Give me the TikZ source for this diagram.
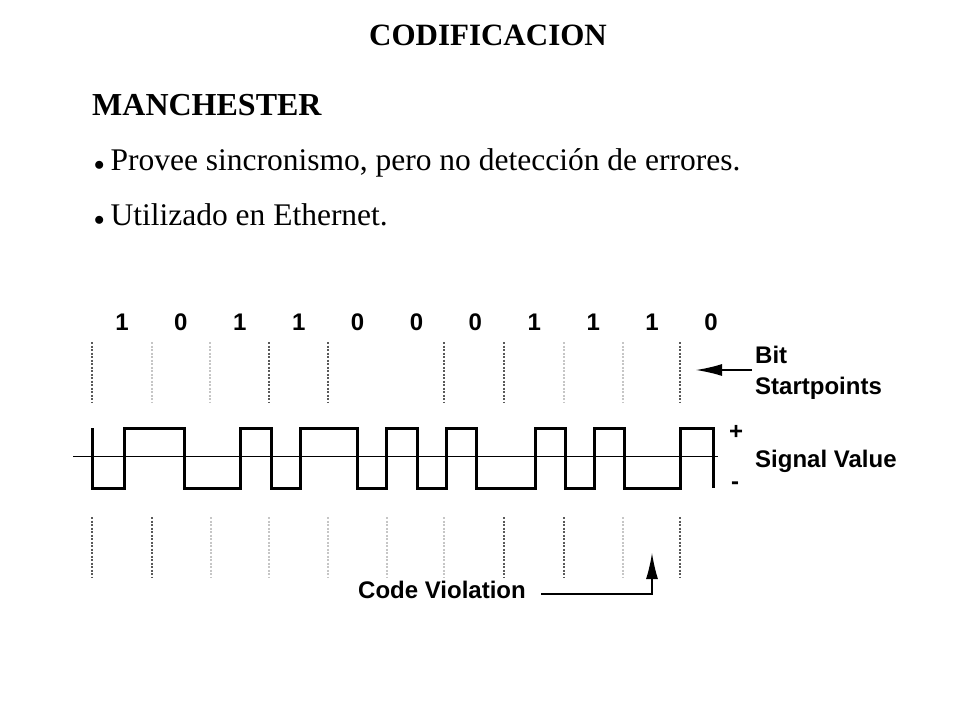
\documentclass[tikz,border=0pt]{standalone}
\usetikzlibrary{arrows.meta}
\usepackage{fontspec}
\setmainfont{Liberation Serif}
\newfontfamily\lab{Liberation Sans}
\begin{document}
\begin{tikzpicture}[x=1pt,y=-1pt,
  dk/.style={gray!70!black,dash pattern=on 2pt off 1.5pt,line width=1.3pt},
  lt/.style={gray!45,dash pattern=on 2pt off 1.5pt,line width=1.3pt},
  lbl/.style={font=\lab\bfseries\fontsize{24}{26}\selectfont,anchor=west,inner sep=0pt},
  bit/.style={font=\lab\bfseries\fontsize{24}{26}\selectfont,inner sep=0pt},
  txt/.style={font=\fontsize{31.5}{34}\selectfont,anchor=base west,inner sep=0pt}]
\useasboundingbox (0,0) rectangle (960,720);
\node[font=\bfseries\fontsize{31}{34}\selectfont,anchor=base,inner sep=0pt] (title) at (488,45) {CODIFICACION};
\node[txt,font=\bfseries\fontsize{32}{34}\selectfont] (man) at (92,115) {MANCHESTER};
\node[txt] (b1) at (94,170) {{\fontsize{20}{20}\selectfont$\bullet$}\hspace{6pt}Provee sincronismo, pero no detección de errores.};
\node[txt] (b2) at (94,225) {{\fontsize{20}{20}\selectfont$\bullet$}\hspace{6pt}Utilizado en Ethernet.};
% bits
\foreach \b [count=\i from 0] in {1,0,1,1,0,0,0,1,1,1,0}
  \node[bit] (bit\i) at ({122+58.9*\i},322) {\b};
% top dashed
\foreach \x/\s in {92/dk,152/lt,210/lt,269/dk,328/dk,444/dk,504/dk,564/lt,623/lt,680/dk}
  \draw[\s] (\x,342) -- (\x,402);
\foreach \x/\s in {92/dk,152/dk,211/lt,269/lt,328/lt,387/lt,444/lt,504/dk,564/dk,623/lt,680/dk}
  \draw[\s] (\x,517) -- (\x,577);
% signal
\draw[line width=3pt,line join=miter] (92,428)--(92,488)--(124,488)--(124,428)--(184,428)--(184,488)--(240,488)--(240,428)--(271,428)--(271,488)--(300,488)--(300,428)--(357,428)--(357,488)--(386,488)--(386,428)--(417,428)--(417,488)--(446,488)--(446,428)--(476,428)--(476,488)--(535,488)--(535,428)--(565,428)--(565,488)--(594,488)--(594,428)--(624,428)--(624,488)--(680,488)--(680,428)--(713,428)--(713,488);
\draw[line width=0.8pt] (73,456) -- (718,456);
% labels
\node[lbl] (bs1) at (755,355) {Bit};
\node[lbl] (bs2) at (755,388) {Startpoints};
\node[lbl] (sv) at (755,461) {Signal Value};
\node[lbl] (plus) at (729,432) {+};
\node[lbl] (minus) at (731,486) {-};
\coordinate (a1) at (752,370);
\coordinate (a2) at (696,370);
\draw[line width=1.3pt,-{Latex[length=26pt,width=12pt]}] (a1) -- (a2);
\node[lbl,anchor=center] (cv) at (442,590) {Code Violation};
\coordinate (c1) at (541,594);
\coordinate (c2) at (652,594);
\coordinate (c3) at (652,553);
\draw[line width=1.3pt,-{Latex[length=26pt,width=12pt]}] (c1) -- (c2) -- (c3);
\end{tikzpicture}
\end{document}
